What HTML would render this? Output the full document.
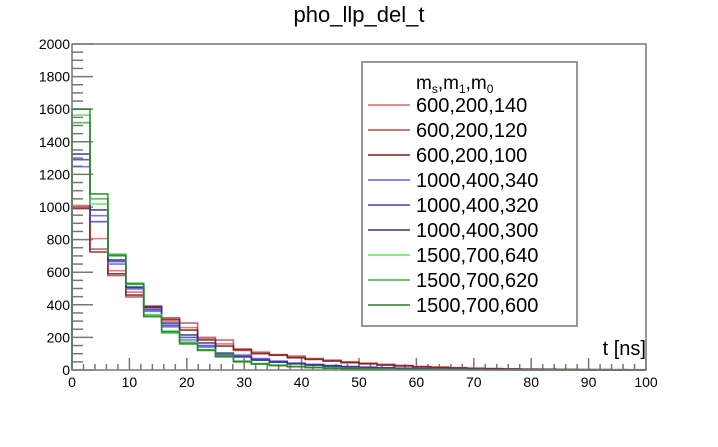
<!DOCTYPE html>
<html><head><meta charset="utf-8"><style>
body{margin:0;background:#fff;}
svg text{font-family:"Liberation Sans",sans-serif;}
</style></head><body>
<svg id="chart" width="718" height="442" xmlns="http://www.w3.org/2000/svg">
<rect width="718" height="442" fill="#fff"/>
<text x="359" y="22" font-size="22" text-anchor="middle">pho_llp_del_t</text>
<g id="ticks"></g>
<g id="series"></g>
<rect x="72" y="44" width="574" height="326" fill="none" stroke="#777" stroke-width="1.5"/>
<text x="646" y="355" font-size="20" text-anchor="end">t [ns]</text>
<g id="legend">
<rect x="362" y="62" width="215" height="264" fill="#fff" stroke="#777" stroke-width="1.5"/>
<text x="416" y="89" font-size="19">m<tspan font-size="12" dy="4">s</tspan><tspan dy="-4">,m</tspan><tspan font-size="12" dy="4">1</tspan><tspan dy="-4">,m</tspan><tspan font-size="12" dy="4">0</tspan></text>
</g>
</svg>
<script>
const binWidth = 3.125;
const xTicks = [0,10,20,30,40,50,60,70,80,90,100];
const yTicks = [0,200,400,600,800,1000,1200,1400,1600,1800,2000];
const seriesNames = ["600,200,140","600,200,120","600,200,100","1000,400,340","1000,400,320","1000,400,300","1500,700,640","1500,700,620","1500,700,600"];
const seriesColors = ["#e06060","#b05050","#801818","#6060e0","#4040c0","#303080","#60e060","#40b040","#208020"];
const r140 = [1010,806,609,478,394,300,260,190,160,129,110,95,80,68,58,50,42,35,28,22,18,14,11,9,7,6,5,4,3,3,2,2];
const r120 = [1000,742,579,448,380,320,288,200,184,120,105,90,85,70,60,48,40,33,26,20,16,13,10,8,6,5,4,3,3,2,2,1];
const r100 = [990,724,590,460,388,310,245,184,147,125,100,92,75,65,55,45,38,30,25,19,15,12,9,7,6,4,4,3,2,2,1,1];
const b340 = [1247,947,650,497,360,265,184,141,80,92,70,55,42,35,28,22,18,14,11,9,7,5,4,3,3,2,2,1,1,1,1,0];
const b320 = [1290,910,665,505,370,275,200,150,95,85,65,50,40,32,25,20,16,12,10,8,6,5,4,3,2,2,1,1,1,0,0,0];
const b300 = [1325,982,675,509,385,288,215,166,104,80,60,48,38,30,24,18,14,11,9,7,5,4,3,2,2,1,1,1,0,0,0,0];
const g640 = [1564,1018,712,533,340,240,166,123,86,51,40,30,22,17,13,10,8,6,5,4,3,2,2,1,1,1,0,0,0,0,0,0];
const g620 = [1517,1050,700,525,335,227,170,125,90,55,38,28,21,16,12,9,7,5,4,3,2,2,1,1,1,0,0,0,0,0,0,0];
const g600 = [1601,1080,705,530,327,235,160,120,84,50,36,27,20,15,11,8,6,5,4,3,2,2,1,1,0,0,0,0,0,0,0,0];
const allSeries = [r140,r120,r100,b340,b320,b300,g640,g620,g600];

const NS="http://www.w3.org/2000/svg";
const X0=72,X1=646,Y0=370,Y1=44;
const xs=v=>X0+(v-0)/100*(X1-X0);
const ys=v=>Y0-(v/2000)*(Y0-Y1);
function mk(tag,attrs,parent){const e=document.createElementNS(NS,tag);for(const k in attrs)e.setAttribute(k,attrs[k]);parent.appendChild(e);return e;}

const tg=document.getElementById('ticks');
for(let v=0;v<=2000;v+=50){
  const major=v%200===0;
  const t=mk('line',{x1:X0,x2:X0+(major?21:11),y1:ys(v),y2:ys(v),stroke:'#777','stroke-width':1.5},tg);
  
  
}
yTicks.forEach(v=>{
  const t=mk('text',{x:X0-2,y:ys(v)+5,'font-size':14,'text-anchor':'end'},tg);
  t.textContent=v;
  
  
});
for(let v=0;v<=100;v+=2){
  const major=v%10===0;
  const t=mk('line',{x1:xs(v),x2:xs(v),y1:Y0,y2:Y0-(major?12:6),stroke:'#777','stroke-width':1.5},tg);
  
  
}
xTicks.forEach(v=>{
  const t=mk('text',{x:xs(v),y:387,'font-size':14,'text-anchor':'middle'},tg);
  t.textContent=v;
  
  
});

const sg=document.getElementById('series');
allSeries.forEach((arr,i)=>{
  let d='M'+xs(0)+','+ys(0);
  arr.forEach((v,j)=>{d+=' L'+xs(j*binWidth)+','+ys(v)+' L'+xs((j+1)*binWidth)+','+ys(v);});
  d+=' L'+xs(arr.length*binWidth)+','+ys(0);
  const p=mk('path',{d:d,fill:'none',stroke:seriesColors[i],'stroke-width':1.6,'stroke-opacity':0.85},sg);
  
  
});

const lg=document.getElementById('legend');
seriesNames.forEach((n,i)=>{
  const y=105+i*25;
  const l=mk('line',{x1:368,x2:410,y1:y,y2:y,stroke:seriesColors[i],'stroke-width':1.6},lg);
  
  
  const t=mk('text',{x:416,y:y+7,'font-size':20},lg);
  t.textContent=n;
  
  
});
</script>
</body></html>
